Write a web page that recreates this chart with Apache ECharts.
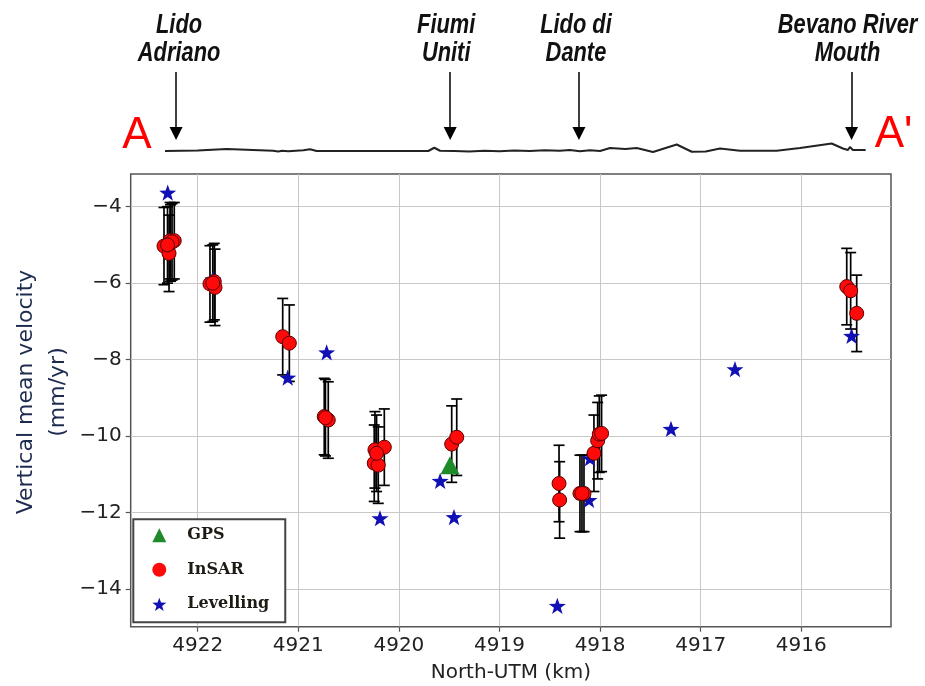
<!DOCTYPE html>
<html><head><meta charset="utf-8">
<script src="https://cdn.jsdelivr.net/npm/echarts@6/dist/echarts.min.js"></script>
<style>html,body{margin:0;padding:0;background:#fff}#c{width:925px;height:686px}</style>
</head><body><div id="c"></div>
<script>
// ---------- data ----------
const xTicks = [4922, 4921, 4920, 4919, 4918, 4917, 4916];
const yTicks = [-14, -12, -10, -8, -6, -4];

const insarKm  = [4922.335, 4922.285, 4922.275, 4922.233, 4922.270, 4922.255, 4922.300,
                  4921.878, 4921.835, 4921.828, 4921.850,
                  4921.155, 4921.089,
                  4920.742, 4920.702, 4920.730,
                  4920.238, 4920.145, 4920.245, 4920.205, 4920.222,
                  4919.475, 4919.425,
                  4918.408, 4918.402,
                  4918.200, 4918.160, 4918.180,
                  4918.061, 4918.024, 4918.008, 4917.985,
                  4915.548, 4915.509, 4915.449];
const insarVel = [-5.03, -5.22, -4.89, -4.89, -4.95, -4.92, -5.00,
                  -6.02, -5.96, -6.11, -6.00,
                  -7.40, -7.57,
                  -9.49, -9.58, -9.52,
                  -10.36, -10.29, -10.71, -10.76, -10.45,
                  -10.21, -10.03,
                  -11.24, -11.67,
                  -11.50, -11.50, -11.50,
                  -10.45, -10.12, -9.95, -9.93,
                  -6.09, -6.20, -6.79];
const insarErr = [1.01, 1.0, 1.0, 1.0, 1.0, 1.0, 1.0,
                  1.0, 1.0, 1.0, 1.0,
                  1.0, 1.0,
                  1.0, 1.0, 1.0,
                  1.0, 1.0, 1.0, 1.0, 1.0,
                  1.0, 1.0,
                  1.0, 1.0,
                  1.0, 1.0, 1.0,
                  1.0, 1.0, 1.0, 1.0,
                  1.0, 1.0, 1.0];

const gpsKm  = [4919.492];
const gpsVel = [-10.76];

const levKm  = [4922.298, 4921.850, 4921.105, 4920.718, 4920.188, 4919.590, 4919.452,
                4918.425, 4918.110, 4918.100, 4917.295, 4916.659, 4915.500];
const levVel = [-3.63, -5.90, -8.47, -7.81, -12.15, -11.17, -12.12,
                -14.44, -11.67, -10.58, -9.81, -8.25, -7.38];

// coastal profile A - A' (arbitrary elevation units)
const profileKm   = [4922.325, 4922.0, 4921.712, 4921.45, 4921.25, 4921.20, 4921.16, 4921.10, 4920.95,
                     4920.884, 4920.817, 4919.708, 4919.648, 4919.591, 4919.45, 4919.30, 4919.15,
                     4919.0, 4918.85, 4918.70, 4918.55, 4918.40, 4918.30, 4918.20, 4918.10, 4918.0,
                     4917.901, 4917.75, 4917.636, 4917.474, 4917.238, 4917.089, 4916.95, 4916.808,
                     4916.609, 4916.245, 4916.012, 4915.698, 4915.586, 4915.536, 4915.516, 4915.487, 4915.36];
const profileElev = [1.8, 1.9, 2.2, 2.0, 1.85, 1.7, 1.85, 1.75, 1.95,
                     2.15, 1.8, 1.8, 2.45, 1.85, 1.8, 1.7, 1.85,
                     1.75, 1.9, 1.8, 1.95, 1.85, 2.0, 1.75, 1.95, 1.8,
                     2.4, 2.2, 2.4, 1.6, 3.1, 1.65, 1.7, 2.3,
                     1.85, 1.85, 2.4, 3.3, 2.3, 2.0, 2.6, 2.0, 2.0];

const placeNames = ['Lido\nAdriano', 'Fiumi\nUniti', 'Lido di\nDante', 'Bevano River\nMouth'];
const placeKm    = [4922.215, 4919.49, 4918.21, 4915.50];
const endLabels  = ['A', "A'"];
const yTitle     = 'Vertical mean velocity\n(mm/yr)';

const seriesNames = ['GPS', 'InSAR', 'Levelling'];

// ---------- layout constants ----------
const X_MIN = 4915.108, X_MAX = 4922.666;
const Y_MIN = -14.986, Y_MAX = -3.145;
const ARROW_TOP = 17.6, ARROW_END = 5.3;
const STAR = 'path://M0,-10 L2.35,-3.24 L9.51,-3.09 L3.8,1.24 L5.88,8.09 L0,4 L-5.88,8.09 L-3.8,1.24 L-9.51,-3.09 L-2.35,-3.24 Z';
const minus = v => String(v).replace('-', '\u2212');

const chart = echarts.init(document.getElementById('c'), null, {renderer: 'canvas'});

const option = {
  animation: false,
  backgroundColor: '#fff',
  grid: [
    {left: 130.7, right: 34, top: 174, bottom: 59.3, show: true, borderColor: '#555', borderWidth: 1.5,
     backgroundColor: 'transparent', outerBoundsMode: 'none'},
    {left: 130.7, right: 34, top: 60, height: 100, show: false, outerBoundsMode: 'none'}
  ],
  xAxis: [
    {type: 'value', gridIndex: 0, min: X_MIN, max: X_MAX, inverse: true,
     name: 'North-UTM (km)', nameLocation: 'middle', nameGap: 36,
     nameTextStyle: {fontFamily: 'DejaVu Sans', fontSize: 20, color: '#222'},
     axisLine: {show: false},
     axisTick: {show: true, length: 5, customValues: xTicks, lineStyle: {color: '#555', width: 1.2}},
     axisLabel: {customValues: xTicks, margin: 9, fontFamily: 'DejaVu Sans', fontSize: 20, color: '#222',
                 formatter: v => String(v)},
     splitLine: {show: true, lineStyle: {color: '#c8c8c8', width: 1}}},
    {type: 'value', gridIndex: 1, min: X_MIN, max: X_MAX, inverse: true, show: false,
     splitLine: {show: false}}
  ],
  yAxis: [
    {type: 'value', gridIndex: 0, min: Y_MIN, max: Y_MAX,
     axisLine: {show: false},
     axisTick: {show: true, length: 5, customValues: yTicks, lineStyle: {color: '#555', width: 1.2}},
     axisLabel: {customValues: yTicks, margin: 9, fontFamily: 'DejaVu Sans', fontSize: 20, color: '#222',
                 formatter: v => minus(v)},
     splitLine: {show: true, lineStyle: {color: '#c8c8c8', width: 1}}},
    {type: 'value', gridIndex: 1, min: 0, max: 20, show: false, splitLine: {show: false}}
  ],
  legend: {
    show: true, orient: 'vertical', left: 133.3, top: 519.3,
    data: seriesNames,
    itemWidth: 14, itemHeight: 14, itemGap: 18.5,
    padding: [8, 16, 10, 19],
    backgroundColor: '#fff', borderColor: '#444', borderWidth: 2,
    textStyle: {fontFamily: 'DejaVu Serif', fontWeight: 'bold', fontSize: 16, color: '#1e1a14', padding: [0, 0, 0, 16]},
    itemStyle: {borderWidth: 0}
  },
  series: [
    {
      type: 'custom', name: 'InSAR error', xAxisIndex: 0, yAxisIndex: 0, z: 2, silent: true,
      data: insarKm.map((k, i) => [k, insarVel[i], insarErr[i]]),
      encode: {x: 0, y: 1},
      renderItem: function (params, api) {
        const x = api.value(0), v = api.value(1), e = api.value(2);
        const top = api.coord([x, v + e]);
        const bot = api.coord([x, v - e]);
        const c = 5.5;
        const st = {stroke: '#000', lineWidth: 1.7};
        return {type: 'group', children: [
          {type: 'line', shape: {x1: top[0], y1: top[1], x2: bot[0], y2: bot[1]}, style: st},
          {type: 'line', shape: {x1: top[0] - c, y1: top[1], x2: top[0] + c, y2: top[1]}, style: st},
          {type: 'line', shape: {x1: bot[0] - c, y1: bot[1], x2: bot[0] + c, y2: bot[1]}, style: st}
        ]};
      }
    },
    {
      type: 'scatter', name: 'Levelling', xAxisIndex: 0, yAxisIndex: 0, z: 3,
      symbol: STAR, symbolSize: 17, symbolKeepAspect: true,
      itemStyle: {color: '#1010b4', opacity: 1},
      data: levKm.map((k, i) => [k, levVel[i]])
    },
    {
      type: 'scatter', name: 'InSAR', xAxisIndex: 0, yAxisIndex: 0, z: 4,
      symbol: 'circle', symbolSize: 14,
      itemStyle: {color: '#ff0a0a', borderColor: '#5a0000', borderWidth: 1, opacity: 1},
      data: insarKm.map((k, i) => [k, insarVel[i]])
    },
    {
      type: 'scatter', name: 'GPS', xAxisIndex: 0, yAxisIndex: 0, z: 5,
      symbol: 'triangle', symbolSize: [19, 18],
      itemStyle: {color: '#1f8a2a', opacity: 1},
      data: gpsKm.map((k, i) => [k, gpsVel[i]])
    },
    {
      type: 'line', name: 'profile', xAxisIndex: 1, yAxisIndex: 1, z: 2, silent: true,
      showSymbol: false, symbol: 'none',
      lineStyle: {color: '#222', width: 2},
      data: profileKm.map((k, i) => [k, profileElev[i]]),
      markLine: {
        silent: true, symbol: ['none', 'triangle'], symbolSize: 13,
        lineStyle: {color: '#000', width: 1.5, type: 'solid'},
        itemStyle: {color: '#000'},
        label: {show: false},
        data: placeKm.map(k => [{coord: [k, ARROW_TOP]}, {coord: [k, ARROW_END]}])
      }
    }
  ]
};
chart.setOption(option);

// labels above arrows and A / A' markers, placed through the profile axes
const toPx = (k, e) => chart.convertToPixel({xAxisIndex: 1, yAxisIndex: 1}, [k, e]);
const labelDx = [3, -4, -3, -4];
const graphics = placeNames.map((name, i) => {
  const p = toPx(placeKm[i], ARROW_TOP);
  return {
    type: 'text', x: p[0] + labelDx[i], y: 11, scaleX: 0.78, z: 10,
    style: {text: name, font: 'italic bold 28px "Liberation Sans", Arial, sans-serif',
            textAlign: 'center', textVerticalAlign: 'top', lineHeight: 28, fill: '#111'}
  };
});
const pStart = toPx(profileKm[0], profileElev[0]);
const pEnd = toPx(profileKm[profileKm.length - 1], profileElev[profileElev.length - 1]);
graphics.push({
  type: 'text', x: pStart[0] - 28, y: pStart[1] - 15, z: 10,
  style: {text: endLabels[0], font: '44px "Liberation Sans", Arial, sans-serif', textAlign: 'center',
          textVerticalAlign: 'middle', fill: '#ff0000'}
});
graphics.push({
  type: 'text', x: pEnd[0] + 28, y: pEnd[1] - 15, z: 10,
  style: {text: endLabels[1], font: '44px "Liberation Sans", Arial, sans-serif', textAlign: 'center',
          textVerticalAlign: 'middle', fill: '#ff0000'}
});
// y-axis title
graphics.push({
  type: 'text', x: 42, y: 392, rotation: Math.PI / 2, z: 10,
  style: {text: yTitle, font: '22px "DejaVu Sans", sans-serif', textAlign: 'center',
          textVerticalAlign: 'middle', lineHeight: 32, fill: '#1d2b4f'}
});
chart.setOption({graphic: graphics});
</script>
</body></html>
